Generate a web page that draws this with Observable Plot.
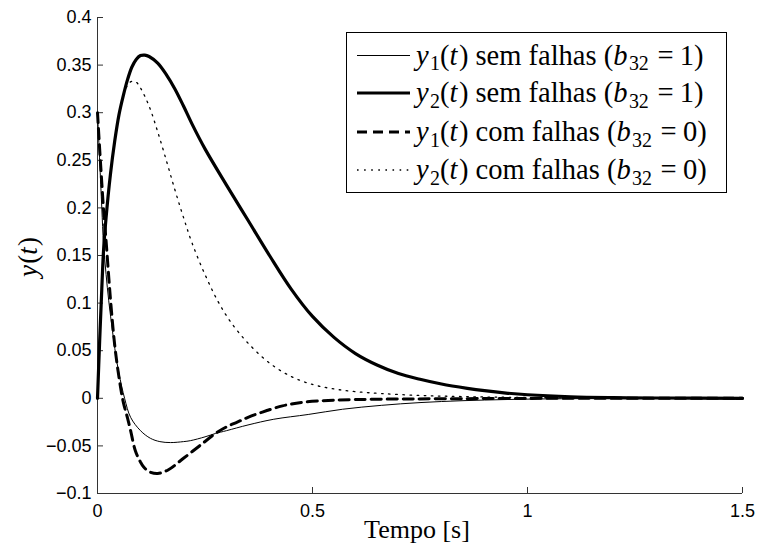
<!DOCTYPE html>
<html><head><meta charset="utf-8">
<script src="https://cdn.jsdelivr.net/npm/d3@7"></script>
<script src="https://cdn.jsdelivr.net/npm/@observablehq/plot@0.6"></script>
<style>body{margin:0;background:#fff} svg{display:block}</style>
</head><body><div id="chart"></div>
<script>
// ---- tick values / labels ----
const xTicks = [0, 0.5, 1, 1.5];
const xTickLabels = ["0", "0.5", "1", "1.5"];
const yTicks = [-0.1, -0.05, 0, 0.05, 0.1, 0.15, 0.2, 0.25, 0.3, 0.35, 0.4];
const yTickLabels = ["\u22120.1", "\u22120.05", "0", "0.05", "0.1", "0.15", "0.2", "0.25", "0.3", "0.35", "0.4"];

// ---- series ----
const t_y1_sem = [0, 0.005, 0.01, 0.014, 0.02, 0.026, 0.035, 0.042, 0.05, 0.063, 0.077, 0.1, 0.123, 0.145, 0.17, 0.2, 0.216, 0.25, 0.274, 0.3, 0.35, 0.41, 0.49, 0.57, 0.66, 0.75, 0.85, 0.95, 1.05, 1.2, 1.35, 1.5];
const v_y1_sem = [0.30, 0.25, 0.20, 0.162, 0.13, 0.103, 0.07, 0.047, 0.026, 0.0, -0.02, -0.034, -0.042, -0.0455, -0.0465, -0.0455, -0.0445, -0.0405, -0.037, -0.034, -0.028, -0.022, -0.017, -0.0115, -0.0074, -0.0045, -0.0025, -0.0013, -0.0006, -0.0002, -0.0001, 0];

const t_y2_sem = [0, 0.005, 0.01, 0.014, 0.02, 0.03, 0.04, 0.05, 0.06, 0.07, 0.08, 0.09, 0.1, 0.11, 0.12, 0.14, 0.16, 0.18, 0.2, 0.22, 0.25, 0.3, 0.35, 0.4, 0.45, 0.5, 0.55, 0.6, 0.65, 0.7, 0.75, 0.8, 0.86, 0.9, 0.95, 1.0, 1.1, 1.2, 1.3, 1.5];
const v_y2_sem = [0, 0.06, 0.115, 0.155, 0.19, 0.235, 0.27, 0.298, 0.318, 0.335, 0.348, 0.356, 0.36, 0.3605, 0.359, 0.352, 0.34, 0.325, 0.307, 0.288, 0.262, 0.224, 0.187, 0.15, 0.115, 0.086, 0.064, 0.047, 0.035, 0.026, 0.020, 0.015, 0.0105, 0.008, 0.0055, 0.0037, 0.0016, 0.0007, 0.0003, 0];

const t_y1_com = [0, 0.005, 0.01, 0.015, 0.02, 0.03, 0.04, 0.05, 0.06, 0.07, 0.077, 0.088, 0.1, 0.107, 0.12, 0.14, 0.165, 0.2, 0.24, 0.274, 0.3, 0.325, 0.35, 0.38, 0.43, 0.48, 0.55, 0.65, 0.8, 1.0, 1.5];
const v_y1_com = [0.30, 0.262, 0.226, 0.192, 0.165, 0.105, 0.056, 0.022, -0.004, -0.021, -0.034, -0.055, -0.067, -0.072, -0.077, -0.079, -0.075, -0.063, -0.049, -0.037, -0.03, -0.025, -0.02, -0.015, -0.008, -0.004, -0.002, -0.001, -0.0005, -0.0001, 0];

const t_y2_com = [0, 0.005, 0.01, 0.014, 0.02, 0.03, 0.04, 0.05, 0.06, 0.07, 0.08, 0.09, 0.1, 0.12, 0.14, 0.16, 0.18, 0.2, 0.22, 0.25, 0.28, 0.31, 0.35, 0.4, 0.45, 0.5, 0.55, 0.6, 0.66, 0.75, 0.85, 1.0, 1.2, 1.5];
const v_y2_com = [0, 0.06, 0.115, 0.155, 0.19, 0.235, 0.27, 0.298, 0.317, 0.329, 0.333, 0.332, 0.326, 0.307, 0.28, 0.25, 0.219, 0.19, 0.163, 0.13, 0.102, 0.08, 0.058, 0.037, 0.023, 0.0145, 0.0098, 0.007, 0.005, 0.003, 0.0018, 0.0008, 0.0003, 0];

const seriesKeys = ["y1sem", "y2sem", "y1com", "y2com"];
const seriesT = [t_y1_sem, t_y2_sem, t_y1_com, t_y2_com];
const seriesV = [v_y1_sem, v_y2_sem, v_y1_com, v_y2_com];
const legendTexts = [
  [["y","i"],["1","sub"],["("],["t","i"],[")"],[" sem falhas ("],["b","i"],["32","sub"],["=","op"],["1)"]],
  [["y","i"],["2","sub"],["("],["t","i"],[")"],[" sem falhas ("],["b","i"],["32","sub"],["=","op"],["1)"]],
  [["y","i"],["1","sub"],["("],["t","i"],[")"],[" com falhas ("],["b","i"],["32","sub"],["=","op"],["0)"]],
  [["y","i"],["2","sub"],["("],["t","i"],[")"],[" com falhas ("],["b","i"],["32","sub"],["=","op"],["0)"]]
];
const yLabelParts = [["y","i"],["("],["t","i"],[")"]];
const xLabel = "Tempo [s]";

// ---- styles ----
const styles = {
  y1sem: {stroke: "#000", strokeWidth: 1, dash: null},
  y2sem: {stroke: "#000", strokeWidth: 3.2, dash: null},
  y1com: {stroke: "#000", strokeWidth: 3, dash: "10,6"},
  y2com: {stroke: "#000", strokeWidth: 1.3, dash: "1.6,5.5"}
};

const W = 757, H = 548, mL = 97, mR = 15, mT = 17, mB = 55;
const plotW = W - mL - mR, plotH = H - mT - mB;
const axisColor = "#333";

const data = seriesKeys.map((k, s) => seriesT[s].map((t, i) => ({t, v: seriesV[s][i], k})));

const lineMarks = seriesKeys.map((k, s) => Plot.line(data[s], {
  x: "t", y: "v", curve: "catmull-rom",
  stroke: styles[k].stroke, strokeWidth: styles[k].strokeWidth,
  strokeDasharray: styles[k].dash || undefined, strokeLinejoin: "round"
}));

const plot = Plot.plot({
  width: W, height: H,
  marginLeft: mL, marginRight: mR, marginTop: mT, marginBottom: mB,
  style: {fontFamily: "'Liberation Sans', Arial, Helvetica, sans-serif", fontSize: "18px", color: "#000", background: "#fff", overflow: "visible"},
  x: {domain: [0, 1.5]},
  y: {domain: [-0.1, 0.4]},
  marks: [
    Plot.axisX({ticks: xTicks, tickSize: 0, tickPadding: 11, tickFormat: d => xTickLabels[xTicks.indexOf(d)], label: null, fontSize: 18}),
    Plot.axisY({ticks: yTicks, tickSize: 0, tickPadding: 6, tickFormat: d => yTickLabels[yTicks.indexOf(d)], label: null, fontSize: 18}),
    Plot.tickX(xTicks, {x: d => d, insetTop: plotH - 6, stroke: axisColor, strokeWidth: 1}),
    Plot.tickY(yTicks, {y: d => d, insetRight: plotW - 6, stroke: axisColor, strokeWidth: 1}),
    Plot.ruleX([0], {stroke: axisColor, strokeWidth: 1}),
    Plot.ruleY([-0.1], {stroke: axisColor, strokeWidth: 1}),
    ...lineMarks
  ]
});
document.getElementById("chart").appendChild(plot);

// ---- text helpers: each piece is its own <text>, placed by measured width ----
const svg = d3.select(plot);
const serif = "Liberation Serif";
function piece(g, s, kind, x, y, size) {
  const sub = kind === "sub";
  const fs = sub ? size * 0.7 : size;
  const t = g.append("text")
    .attr("x", x).attr("y", sub ? y + size * 0.2 : y)
    .attr("font-family", serif).attr("font-size", fs)
    .attr("font-style", kind === "i" ? "italic" : "normal")
    .attr("text-anchor", "start").attr("fill", "#000")
    .style("font-family", serif).style("font-size", fs + "px")
    .style("font-style", kind === "i" ? "italic" : "normal")
    .style("text-anchor", "start").style("white-space", "pre")
    .text(s);
  return t.node().getComputedTextLength();
}
function mathRow(g, parts, x0, y, size) {
  let x = x0;
  parts.forEach(([s, kind]) => {
    if (kind === "op") x += size * 0.3;
    x += piece(g, s, kind === "op" ? null : kind, x, y, size);
    if (kind === "op") x += size * 0.22;
    if (kind === "i") x += size * 0.05;
  });
  return x - x0;
}

// legend
const lg = svg.append("g");
const lgX = 346.5, lgY = 32.5, lgW = 380, lgH = 160;
lg.append("rect").attr("x", lgX).attr("y", lgY).attr("width", lgW).attr("height", lgH)
  .attr("fill", "#fff").attr("stroke", "#000").attr("stroke-width", 1);
const rowY = [55.5, 93, 132, 170];
const legendFont = 28.5;
seriesKeys.forEach((k, i) => {
  const st = styles[k];
  lg.append("line").attr("x1", 357).attr("x2", 410).attr("y1", rowY[i]).attr("y2", rowY[i])
    .attr("stroke", st.stroke).attr("stroke-width", st.strokeWidth)
    .attr("stroke-dasharray", st.dash);
  mathRow(lg.append("g"), legendTexts[i], 416, rowY[i] + 9, legendFont);
});

// x title
const xg = svg.append("g");
const xw = piece(xg, xLabel, null, 0, 538, 26);
xg.attr("transform", `translate(${417 - xw / 2},0)`);

// y title (rotated)
const yg = svg.append("g");
const yw = mathRow(yg, yLabelParts, 0, 0, 27);
yg.attr("transform", `translate(37,257) rotate(-90) translate(${-yw / 2},0)`);
</script>
</body></html>
